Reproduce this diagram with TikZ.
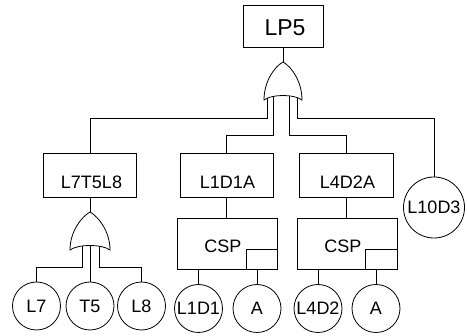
\documentclass[tikz,border=0pt]{standalone}
\usepackage{fontspec}
\setmainfont{Liberation Sans}
\begin{document}
\begin{tikzpicture}[x=1pt,y=-1pt,
  every path/.style={line width=0.8pt},
  box/.style={draw,rectangle,inner sep=0pt},
  evt/.style={draw,circle,inner sep=0pt,minimum size=48pt,font=\fontsize{18}{20}\selectfont},
  txt/.style={inner sep=0pt,font=\fontsize{18}{20}\selectfont},
  gate/.style={draw,fill=white,line width=0.8pt}]
\useasboundingbox (0,0) rectangle (467,336);
% boxes
\node[box,minimum width=80pt,minimum height=42pt] (lp5) at (283,26) {};
\node[inner sep=0pt,font=\fontsize{23}{25}\selectfont] (lp5t) at (285,28) {LP5};
\node[box,minimum width=93pt,minimum height=44pt] (b1) at (90,175) {};
\node[txt] (b1t) at (91.5,182) {L7T5L8};
\node[box,minimum width=93pt,minimum height=44pt] (b2) at (226.5,175) {};
\node[txt] (b2t) at (227.5,182) {L1D1A};
\node[box,minimum width=94pt,minimum height=44pt] (b3) at (346,175) {};
\node[txt] (b3t) at (347.5,182) {L4D2A};
\node[evt,minimum size=61pt] (l10) at (434,207.5) {L10D3};
% CSP boxes
\node[box,minimum width=100pt,minimum height=51pt] (c1) at (227,243.5) {};
\node[txt] (c1t) at (223,246) {CSP};
\node[box,minimum width=31pt,minimum height=20pt,anchor=south east] (c1s) at (c1.south east) {};
\node[box,minimum width=100pt,minimum height=51pt] (c2) at (347,243.5) {};
\node[txt] (c2t) at (343,246) {CSP};
\node[box,minimum width=32pt,minimum height=20pt,anchor=south east] (c2s) at (c2.south east) {};
% bottom circles
\node[evt] (l7) at (36.5,306) {L7};
\node[evt] (t5) at (90,306) {T5};
\node[evt] (l8) at (141.5,306) {L8};
\node[evt] (l1d1) at (198.5,308.5) {L1D1};
\node[evt] (a1) at (257,308.5) {A};
\node[evt] (l4d2) at (318,308.5) {L4D2};
\node[evt] (a2) at (376,308.5) {A};
% gate coordinates
\coordinate (g1top) at (283,62);
\coordinate (g1a) at (267,96);
\coordinate (g1b) at (273,96);
\coordinate (g1c) at (289,96);
\coordinate (g1d) at (297,96);
\coordinate (g2top) at (90,212);
\coordinate (g2a) at (82,246);
\coordinate (g2b) at (90,246);
\coordinate (g2c) at (99,246);
% connectors
\draw (lp5.south) -- (g1top);
\draw (g1a) -- ++(0,22) -| (b1.north);
\draw (g1b) -- ++(0,39) -| (b2.north);
\draw (g1c) -- ++(0,39) -| (b3.north);
\draw (g1d) -- ++(0,22) -| (l10.north);
\draw (b1.south) -- (g2top);
\draw (g2a) -- ++(0,21) -| (l7.north);
\draw (g2b) -- (t5.north);
\draw (g2c) -- ++(0,21) -| (l8.north);
\draw (b2.south) -- (b2.south |- c1.north);
\draw (b3.south) -- (b3.south |- c2.north);
\draw (l1d1.north |- c1.south) -- (l1d1.north);
\draw (a1.north |- c1s.south) -- (a1.north);
\draw (l4d2.north |- c2.south) -- (l4d2.north);
\draw (a2.north |- c2s.south) -- (a2.north);
% OR gates
\draw[gate] (264,100) .. controls (264,82) and (274,67) .. (283,62)
  .. controls (292,67) and (302,82) .. (302,100)
  .. controls (294,94) and (272,94) .. (264,100) -- cycle;
\draw[gate] (70,250) .. controls (70,232) and (81,217) .. (90,212)
  .. controls (99,217) and (110,232) .. (110,250)
  .. controls (102,244) and (78,244) .. (70,250) -- cycle;
\end{tikzpicture}
\end{document}
